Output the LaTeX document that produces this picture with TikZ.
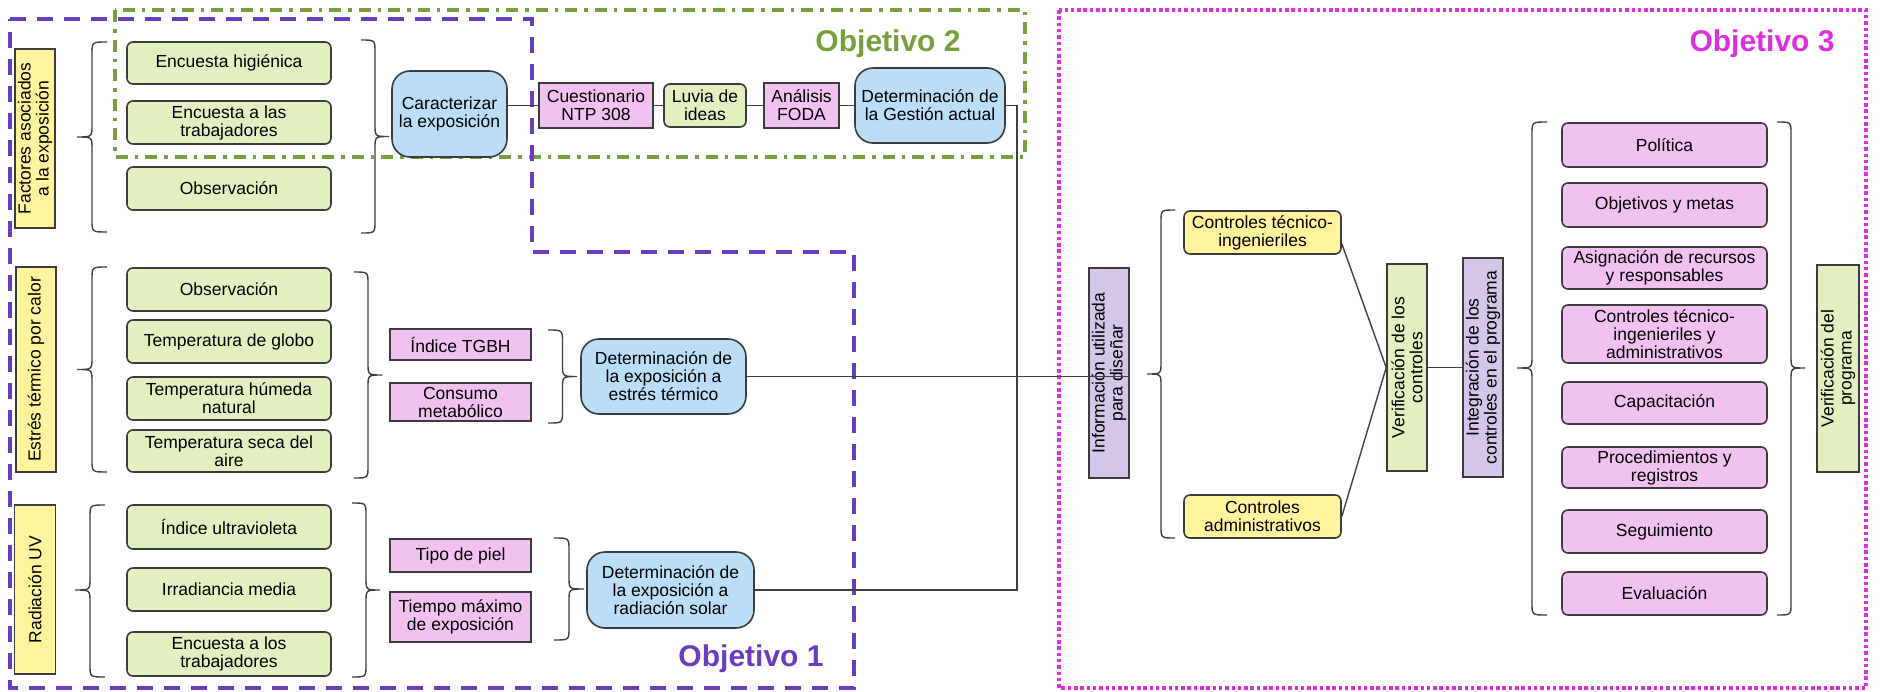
\documentclass[tikz,border=0pt]{standalone}
\usepackage{fontspec}
\setmainfont{Liberation Sans}
\usetikzlibrary{calc}
\definecolor{gfill}{HTML}{E2F0C1}
\definecolor{pfill}{HTML}{F1C2EF}
\definecolor{bfill}{HTML}{BCDDF6}
\definecolor{yfill}{HTML}{FFF49E}
\definecolor{lfill}{HTML}{D3C6E9}
\definecolor{bordercol}{HTML}{3C3C3C}
\definecolor{linecol}{HTML}{404040}
\definecolor{o1col}{HTML}{6A3DBF}
\definecolor{o2col}{HTML}{76A03E}
\definecolor{o3col}{HTML}{DD30DD}
\newcommand{\boxfont}{\fontsize{17.5}{18}\selectfont}
\newcommand{\objfont}{\fontsize{30}{30}\selectfont\bfseries}
% #1 x of ends, #2 x of tip, #3 y top, #4 y bottom, #5 y tip
\newcommand{\vbrace}[5]{%
  \draw[bracestyle] (#1,#3) .. controls ({(#1+#2)/2},#3) .. ({(#1+#2)/2},{#3+12})
    -- ({(#1+#2)/2},{#5-12}) .. controls ({(#1+#2)/2},#5) .. (#2,#5)
    .. controls ({(#1+#2)/2},#5) .. ({(#1+#2)/2},{#5+12})
    -- ({(#1+#2)/2},{#4-12}) .. controls ({(#1+#2)/2},#4) .. (#1,#4);}
\begin{document}
\begin{tikzpicture}[x=1pt,y=-1pt,
  base/.style={draw=bordercol, line width=1.6pt, align=center, inner sep=0pt, font=\boxfont, text=black},
  gbox/.style={base, fill=gfill, rounded corners=6pt},
  gsbox/.style={base, fill=gfill},
  pbox/.style={base, fill=pfill},
  prbox/.style={base, fill=pfill, rounded corners=6pt, minimum width=205},
  bbox/.style={base, fill=bfill, rounded corners=18pt},
  ybox/.style={base, fill=yfill},
  yrbox/.style={base, fill=yfill, rounded corners=6pt},
  lbox/.style={base, fill=lfill},
  conn/.style={draw=linecol, line width=1.4pt},
  bracestyle/.style={draw=linecol, line width=1.4pt},
  obj1/.style={draw=o1col, line width=4pt, dash pattern=on 16pt off 11pt},
  obj2/.style={draw=o2col, line width=4pt, dash pattern=on 12pt off 7pt on 3.5pt off 7pt},
  obj3/.style={draw=o3col, line width=3.5pt, dash pattern=on 3.5pt off 2.8pt},
  objtext/.style={font=\objfont, inner sep=0pt}
]
\fill[white] (0,0) rectangle (1881,691);
\useasboundingbox (0,0) rectangle (1881,691);

% objective outlines
\draw[obj2] (115,10) rectangle (1025,157);
\draw[obj1] (10,19) -- (532,19) -- (532,252) -- (854,252) -- (854,688) -- (10,688) -- cycle;
\draw[obj3] (1059,10) rectangle (1866,688);

\node[objtext, text=o2col] (t2) at (888,44) {Objetivo 2};
\node[objtext, text=o1col] (t1) at (751,659) {Objetivo 1};
\node[objtext, text=o3col] (t3) at (1762,44) {Objetivo 3};

% section 1
\node[ybox, rotate=90, minimum width=179, minimum height=40] (f1) at (35,138.5) {Factores asociados\\a la exposición};
\node[gbox, minimum width=204, minimum height=42] (g11) at (229,63) {Encuesta higiénica};
\node[gbox, minimum width=204, minimum height=43] (g12) at (229,122.5) {Encuesta a las\\trabajadores};
\node[gbox, minimum width=204, minimum height=43] (g13) at (229,188.5) {Observación};
\node[bbox, minimum width=115, minimum height=86] (car) at (449.5,114) {Caracterizar\\la exposición};
\node[pbox, minimum width=114, minimum height=45] (cue) at (596,105.5) {Cuestionario\\NTP 308};
\node[gbox, minimum width=82, minimum height=43] (luv) at (705,105.5) {Luvia de\\ideas};
\node[pbox, minimum width=75, minimum height=45] (foda) at (801.5,105.5) {Análisis\\FODA};
\node[bbox, minimum width=150, minimum height=75] (ges) at (930,105.5) {Determinación de\\la Gestión actual};

% section 2
\node[ybox, rotate=90, minimum width=205, minimum height=40] (f2) at (36,369.5) {Estrés térmico por calor};
\node[gbox, minimum width=204, minimum height=43] (g21) at (229,289.5) {Observación};
\node[gbox, minimum width=204, minimum height=43] (g22) at (229,341.5) {Temperatura de globo};
\node[gbox, minimum width=204, minimum height=43] (g23) at (229,398.5) {Temperatura húmeda\\natural};
\node[gbox, minimum width=204, minimum height=42] (g24) at (229,451) {Temperatura seca del\\aire};
\node[pbox, minimum width=141, minimum height=31] (p21) at (460.5,344.5) {Índice TGBH};
\node[pbox, minimum width=141, minimum height=38] (p22) at (460.5,402) {Consumo\\metabólico};
\node[bbox, minimum width=165, minimum height=75] (de) at (663.5,376.5) {Determinación de\\la exposición a\\estrés térmico};

% section 3
\node[ybox, rotate=90, minimum width=169, minimum height=41] (f3) at (35,589.5) {Radiación UV};
\node[gbox, minimum width=204, minimum height=44] (g31) at (229,527) {Índice ultravioleta};
\node[gbox, minimum width=204, minimum height=43] (g32) at (229,589.5) {Irradiancia media};
\node[gbox, minimum width=204, minimum height=44] (g33) at (229,654) {Encuesta a los\\trabajadores};
\node[pbox, minimum width=141, minimum height=33] (p31) at (460.5,555.5) {Tipo de piel};
\node[pbox, minimum width=141, minimum height=50] (p32) at (460.5,617) {Tiempo máximo\\de exposición};
\node[bbox, minimum width=167, minimum height=76] (dr) at (670.5,590) {Determinación de\\la exposición a\\radiación solar};

% objective 3
\node[lbox, rotate=90, minimum width=210, minimum height=40] (info) at (1109,373) {Información utilizada\\para diseñar};
\node[yrbox, minimum width=157, minimum height=43] (ct) at (1262.5,232.5) {Controles técnico-\\ingenieriles};
\node[yrbox, minimum width=157, minimum height=43] (ca) at (1262.5,516.5) {Controles\\administrativos};
\node[gsbox, rotate=90, minimum width=207, minimum height=40] (vc) at (1407,367.5) {Verificación de los\\controles};
\node[lbox, rotate=90, minimum width=219, minimum height=40] (ig) at (1483,367.5) {Integración de los\\controles en el programa};
\node[prbox, minimum height=44] (pol) at (1664.5,145) {Política};
\node[prbox, minimum height=44] (obj) at (1664.5,205) {Objetivos y metas};
\node[prbox, minimum height=42] (asi) at (1664.5,268) {Asignación de recursos\\y responsables};
\node[prbox, minimum height=58] (cti) at (1664.5,334) {Controles técnico-\\ingenieriles y\\administrativos};
\node[prbox, minimum height=42] (cap) at (1664.5,403) {Capacitación};
\node[prbox, minimum height=41] (pro) at (1664.5,467.5) {Procedimientos y\\registros};
\node[prbox, minimum height=43] (seg) at (1664.5,531.5) {Seguimiento};
\node[prbox, minimum height=43] (eva) at (1664.5,593.5) {Evaluación};
\node[gsbox, rotate=90, minimum width=207, minimum height=42] (vp) at (1838,368.5) {Verificación del\\programa};

% braces
\vbrace{107}{77}{42}{232}{137}
\vbrace{361}{389}{40}{233}{136.5}
\vbrace{107}{77}{267}{472}{369.5}
\vbrace{354}{382}{272}{478}{375}
\vbrace{548}{577}{330}{423}{376.5}
\vbrace{105}{75}{505}{677}{590}
\vbrace{352}{380}{503}{677}{590}
\vbrace{554}{584}{538}{640}{589}
\vbrace{1175}{1147}{210}{538}{374}
\vbrace{1547}{1517}{122}{615}{368}
\vbrace{1777}{1805}{122}{615}{368}

% connectors
\coordinate (vx) at (1017,105.5);
\draw[conn] (cue.west -| car.east) -- (cue.west);
\draw[conn] (cue.east) -- (luv.west);
\draw[conn] (luv.east) -- (foda.west);
\draw[conn] (foda.east) -- (ges.west);
\draw[conn] (ges.east) -- (vx) |- (dr.east);
\draw[conn] (de.east) -- (de.east -| info.south);
\draw[conn] ($(ct.south east)+(0,-11)$) -- (vc.north);
\draw[conn] (ca.east) -- (vc.north);
\draw[conn] (vc.south) -- (ig.north);
\end{tikzpicture}
\end{document}
